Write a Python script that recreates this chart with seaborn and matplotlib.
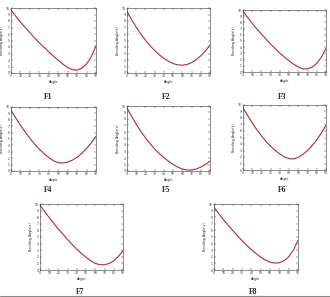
import numpy as np
import pandas as pd
import matplotlib
matplotlib.use("Agg")
import matplotlib.pyplot as plt
import seaborn as sns

angles = [0, 5, 10, 15, 20, 25, 30, 35, 40, 45, 50, 55, 60, 65, 70, 75, 80, 85, 90]
f1 = [9.7, 8.75, 7.85, 7.0, 6.2, 5.4, 4.65, 3.95, 3.25, 2.6, 1.95, 1.35, 0.85, 0.5, 0.45, 0.75, 1.4, 2.5, 4.2]
f2 = [9.5, 8.2, 7.05, 6.0, 5.05, 4.2, 3.45, 2.8, 2.25, 1.8, 1.45, 1.25, 1.2, 1.3, 1.6, 2.05, 2.65, 3.4, 4.3]
f3 = [9.8, 8.8, 7.85, 6.95, 6.1, 5.3, 4.5, 3.75, 3.05, 2.4, 1.8, 1.25, 0.8, 0.5, 0.5, 0.8, 1.4, 2.4, 3.8]
f4 = [9.5, 8.3, 7.15, 6.1, 5.1, 4.2, 3.4, 2.7, 2.1, 1.6, 1.3, 1.25, 1.4, 1.7, 2.15, 2.75, 3.5, 4.4, 5.45]
f5 = [9.7, 8.4, 7.2, 6.1, 5.1, 4.2, 3.4, 2.7, 2.05, 1.5, 1.0, 0.6, 0.3, 0.15, 0.15, 0.3, 0.6, 1.0, 1.5]
f6 = [9.6, 8.4, 7.25, 6.2, 5.25, 4.4, 3.65, 3.0, 2.45, 2.0, 1.75, 1.7, 1.95, 2.4, 3.0, 3.75, 4.65, 5.7, 6.9]
f7 = [9.8, 8.85, 7.95, 7.05, 6.2, 5.4, 4.6, 3.85, 3.15, 2.5, 1.9, 1.4, 1.0, 0.8, 0.8, 1.0, 1.4, 2.05, 2.95]
f8 = [9.5, 8.55, 7.65, 6.8, 6.0, 5.2, 4.45, 3.75, 3.1, 2.5, 1.95, 1.5, 1.2, 1.05, 1.1, 1.4, 2.0, 3.0, 4.5]
panel_names = ["F1", "F2", "F3", "F4", "F5", "F6", "F7", "F8"]
series = [f1, f2, f3, f4, f5, f6, f7, f8]
x_ticks = [0, 10, 20, 30, 40, 50, 60, 70, 80, 90]
y_ticks = [0, 1, 2, 3, 4, 5, 6, 7, 8, 9, 10]

sns.set_style("white")
plt.rcParams["font.family"] = ["DejaVu Sans"]

W, H = 330, 297
fig = plt.figure(figsize=(W / 100, H / 100), dpi=100)
fig.patch.set_facecolor("white")

# (left, right, top, bottom) in pixels
boxes = [
    (11, 96, 8, 73), (127, 210, 8, 73), (243, 326, 10, 72),
    (11, 96, 107, 171), (127, 210, 106, 171), (243, 326, 105, 170),
    (40, 123, 204, 270), (214, 298, 204, 270),
]
label_pos = [(48, 97), (166, 97), (282, 97), (48, 190), (166, 190), (282, 190), (80, 292), (253, 292)]

for name, vals, (l, r, t, b), (lx, ly) in zip(panel_names, series, boxes, label_pos):
    ax = fig.add_axes([l / W, 1 - b / H, (r - l) / W, (b - t) / H])
    df = pd.DataFrame({"Angle": angles, "Bending": vals})
    sns.lineplot(data=df, x="Angle", y="Bending", ax=ax, color="#b22a3c", linewidth=0.8)
    ax.set_xlim(0, 90)
    ax.set_ylim(0, 10)
    ax.set_xticks(x_ticks)
    ax.set_yticks(y_ticks)
    ax.tick_params(direction="in", length=1.2, width=0.3, labelsize=2.2, pad=1,
                   top=True, right=True, bottom=True, left=True)
    ax.set_xlabel("Angle", fontsize=2.4, labelpad=1)
    ax.set_ylabel("Bending Angle(s)", fontsize=2.4, labelpad=1)
    for s in ax.spines.values():
        s.set_linewidth(0.4)
        s.set_color("#333333")
    fig.text(lx / W, 1 - ly / H, name, ha="center", va="center",
             fontsize=5.5, fontweight="bold", family=["Liberation Serif"])

fig.add_artist(plt.Line2D([0, 1], [1 - 296 / H, 1 - 296 / H], color="#888888", linewidth=0.8))

fig.savefig("out.png", dpi=100)
